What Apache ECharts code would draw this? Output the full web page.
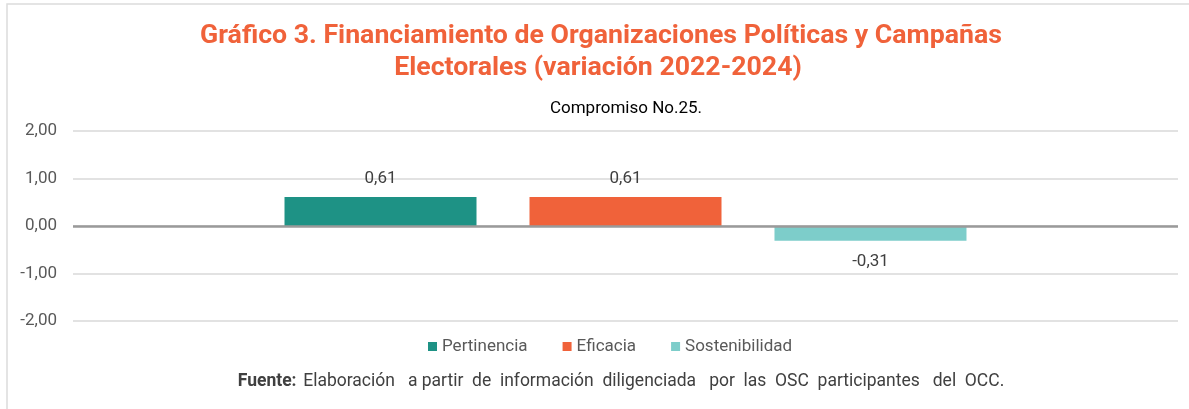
<!DOCTYPE html>
<html><head><meta charset="utf-8">
<script src="https://cdn.jsdelivr.net/npm/echarts@6/dist/echarts.min.js"></script>
<style>
html,body{margin:0;padding:0;background:#fff;}
#c{width:1189px;height:409px;}
</style></head><body>
<div id="c"></div>
<script>
const categories = ['Compromiso No.25.'];
const seriesNames = ['Pertinencia', 'Eficacia', 'Sostenibilidad'];
const pertinencia = [0.61];
const eficacia = [0.61];
const sostenibilidad = [-0.31];
const yTicks = [-2, -1, 0, 1, 2];
const colors = ['#1E9285', '#F0623A', '#7DCDCA'];

const chart = echarts.init(document.getElementById('c'));
const fmt = v => v.toFixed(2).replace('.', ',');
const lbl = {show: true, formatter: p => fmt(p.value), color: '#404040', fontSize: 17, fontFamily: 'Roboto'};
function mk(name, data, color, pos, dist) {
  return {name, type: 'bar', data, barWidth: 192, barGap: '27.6%',
    itemStyle: {color}, label: Object.assign({}, lbl, {position: pos, distance: dist})};
}
const txt = (x, y, text, font, fill) => ({type: 'text', x, y, silent: true, style: {text, font, fill, align: 'center', verticalAlign: 'top'}});
chart.setOption({
  animation: false,
  textStyle: {fontFamily: 'Roboto'},
  graphic: [
    {type: 'rect', shape: {x: 7, y: 4, width: 1190, height: 420}, style: {fill: 'none', stroke: '#dcdcdc', lineWidth: 1.5}, silent: true},
    txt(601, 23, 'Gráfico 3. Financiamiento de Organizaciones Políticas y Campañas', 'bold 26.7px Roboto', '#F0623A'),
    txt(598, 55, 'Electorales (variación 2022-2024)', 'bold 26.7px Roboto', '#F0623A'),
    txt(626, 100, categories[0], '17px Roboto', '#000'),
    {type: 'text', x: 621, y: 373, silent: true, style: {align: 'center', verticalAlign: 'top', rich: {b: {fontWeight: 'bold', fontSize: 17.5, fill: '#404040', fontFamily: 'Roboto'}, n: {fontSize: 17.5, fill: '#404040', fontFamily: 'Roboto'}}, text: '{b|Fuente:}  {n|Elaboración   a partir  de  información  diligenciada   por  las  OSC  participantes   del  OCC.}'}}
  ],
  legend: {top: 333, left: 423, itemWidth: 9, itemHeight: 9, itemGap: 35, icon: 'rect', textStyle: {color: '#595959', fontSize: 17}, data: seriesNames},
  grid: {left: 73, right: 11, top: 131, bottom: 88},
  xAxis: {type: 'category', data: categories, axisLine: {show: false}, axisTick: {show: false}, axisLabel: {show: false}},
  yAxis: {type: 'value', min: yTicks[0], max: yTicks[yTicks.length - 1], interval: 1,
    axisLabel: {formatter: v => fmt(v), color: '#595959', fontSize: 17, margin: 16},
    axisLine: {show: false}, axisTick: {show: false},
    splitLine: {lineStyle: {color: '#d9d9d9', width: 1.5}}},
  series: [
    mk(seriesNames[0], pertinencia, colors[0], 'top', 10),
    mk(seriesNames[1], eficacia, colors[1], 'top', 10),
    Object.assign(mk(seriesNames[2], sostenibilidad, colors[2], 'bottom', 13), {markLine: {silent: true, symbol: 'none', label: {show: false}, lineStyle: {color: '#9a9a9a', width: 2.5, type: 'solid'}, data: [{yAxis: 0}]}})
  ]
});
</script></body></html>
